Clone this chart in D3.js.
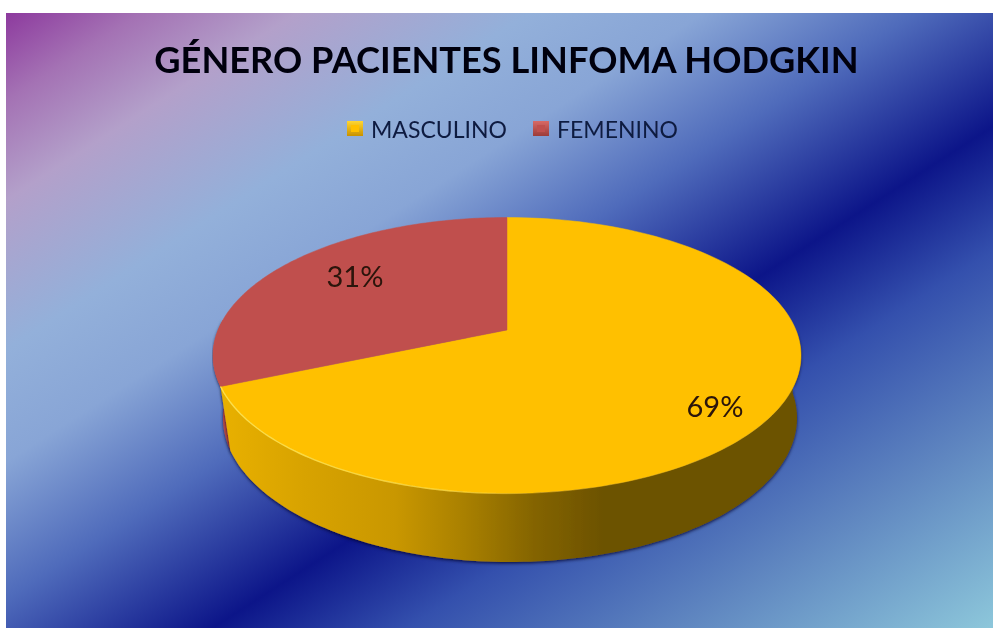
<!DOCTYPE html>
<html><head><meta charset="utf-8">
<script src="https://cdnjs.cloudflare.com/ajax/libs/d3/7.8.5/d3.min.js"></script>
<style>html,body{margin:0;padding:0;background:#fff;overflow:hidden}svg{display:block}</style>
</head><body><svg id="c" width="993" height="628"></svg>
<script>
const titleText = "GÉNERO PACIENTES LINFOMA HODGKIN";
const categories = ["MASCULINO", "FEMENINO"];
const values = [69, 31];
const colors = ["#ffc000", "#c0504d"];

const svg = d3.select("#c");
const defs = svg.append("defs");
const W = 993, H = 628, bgX = 6, bgY = 13;
const top3d = {cx: 507, cy: 355.5, rx: 294, ry: 138};
const bot3d = {cx: 510, cy: 418, rx: 287, ry: 144};
const apex = [507, 330];

function grad(id, attrs, stops) {
  const g = defs.append("linearGradient").attr("id", id).attr("gradientUnits", "userSpaceOnUse");
  Object.entries(attrs).forEach(([k, v]) => g.attr(k, v));
  stops.forEach(s => g.append("stop").attr("offset", s[0]).attr("stop-color", s[1]).attr("stop-opacity", s[2] === undefined ? 1 : s[2]));
}
grad("bg", {x1: 6, y1: 13, x2: 573, y2: 895}, [
  [0, "#8d3a9e"], [0.07, "#a472b4"], [0.15, "#b3a0ca"], [0.27, "#93b0da"], [0.36, "#88a5d6"],
  [0.47, "#4f6bbb"], [0.60, "#0c1589"], [0.70, "#3450ad"], [0.84, "#5f86c0"], [1, "#8cc6da"]
]);
grad("wallY", {x1: 222, y1: 0, x2: 800, y2: 0}, [
  [0, "#e8b000"], [0.14, "#d8a300"], [0.3, "#c99700"], [0.42, "#a98000"], [0.54, "#846400"],
  [0.66, "#6c5200"], [1, "#6c5200"]
]);
grad("wallR", {x1: 213, y1: 0, x2: 235, y2: 0}, [[0, "#d0554f"], [1, "#a03c38"]]);
grad("rim", {x1: 225, y1: 0, x2: 540, y2: 0}, [
  [0, "#ffe95c", 0.8], [0.7, "#ffe04a", 0.7], [1, "#ffe04a", 0]
]);
grad("lgY", {x1: 0, y1: 0, x2: 0, y2: 1}, [[0, "#ffd633"], [1, "#c99200"]]);
grad("lgR", {x1: 0, y1: 0, x2: 0, y2: 1}, [[0, "#d86a66"], [1, "#9c3b38"]]);
defs.selectAll("linearGradient").filter(function(){return /^lg/.test(this.id)}).attr("gradientUnits", "objectBoundingBox");

const soft = defs.append("filter").attr("id", "soft").attr("x", "-5%").attr("y", "-5%").attr("width", "110%").attr("height", "110%");
soft.append("feGaussianBlur").attr("stdDeviation", 0.45);
const shadow = defs.append("filter").attr("id", "shadow").attr("x", "-5%").attr("y", "-5%").attr("width", "110%").attr("height", "110%");
shadow.append("feDropShadow").attr("dx", 0).attr("dy", 1.5).attr("stdDeviation", 1.5).attr("flood-color", "#00002a").attr("flood-opacity", 0.75);

svg.append("rect").attr("x", bgX).attr("y", bgY).attr("width", W - bgX).attr("height", H - bgY).attr("fill", "url(#bg)");

const root = svg.append("g").attr("filter", "url(#soft)");

root.append("text").attr("x", 506.5).attr("y", 73).attr("text-anchor", "middle")
  .attr("font-family", "Lato, 'Open Sans', sans-serif").attr("font-weight", 700).attr("font-size", 36.2)
  .attr("fill", "#060610").text(titleText);

/* legend */
const legendX = d3.scaleOrdinal().domain(categories).range([347, 533]);
const legend = root.selectAll("g.lg").data(categories).join("g").attr("class", "lg")
  .attr("transform", d => `translate(${legendX(d)},121)`);
legend.append("rect").attr("width", 16).attr("height", 15).attr("fill", (d, i) => i ? "url(#lgR)" : "url(#lgY)");
legend.append("rect").attr("x", 4).attr("y", 4).attr("width", 8).attr("height", 7).attr("fill", (d, i) => colors[i]);
legend.append("text").attr("x", 24).attr("y", 16.5)
  .attr("font-family", "Lato, 'Open Sans', sans-serif").attr("font-size", 23)
  .attr("fill", "#101a40").text(d => d);

/* pie */
const pieAngles = d3.pie().sort(null).value(d => d)(values);
const boundary = pieAngles[0].endAngle;
/* the disc is tilted with perspective, so the slice boundary lands further round the rim */
const tiltDeg = 257;
const warp = d3.scaleLinear().domain([0, boundary, 2 * Math.PI]).range([0, tiltDeg * Math.PI / 180, 2 * Math.PI]);
const slices = pieAngles.map((p, i) => ({...p, startAngle: warp(p.startAngle), endAngle: warp(p.endAngle), color: colors[i]}));

const onEllipse = (e, a) => [e.cx + e.rx * Math.sin(a), e.cy - e.ry * Math.cos(a)];
const sweep = (a0, a1, n) => d3.range(n + 1).map(i => a0 + (a1 - a0) * i / n);
function wallPath(a0, a1) {
  const as = sweep(a0, a1, 120);
  const pts = as.map(a => onEllipse(top3d, a)).concat(as.slice().reverse().map(a => onEllipse(bot3d, a)));
  return d3.line()(pts) + "Z";
}
const walls = root.append("g");
walls.append("path").attr("d", wallPath(slices[0].endAngle - 0.02, 285 * Math.PI / 180)).attr("fill", "url(#wallR)").attr("filter", "url(#shadow)");
walls.append("path").attr("d", wallPath(80 * Math.PI / 180, slices[0].endAngle)).attr("fill", "url(#wallY)").attr("filter", "url(#shadow)");

root.selectAll("path.s").data(slices).join("path").attr("class", "s")
  .attr("d", d => d3.line()([apex].concat(sweep(d.startAngle, d.endAngle, 160).map(a => onEllipse(top3d, a)))) + "Z")
  .attr("fill", d => d.color).attr("stroke", d => d.color).attr("stroke-width", 0.5);

/* bright bevel along the front rim */
const rimPts = sweep(150 * Math.PI / 180, slices[0].endAngle, 80).map(a => onEllipse(top3d, a));
root.append("path").attr("d", d3.line()(rimPts)).attr("fill", "none").attr("stroke", "url(#rim)").attr("stroke-width", 1.4);

/* value labels */
const total = d3.sum(values);
const labelPos = [[715, 417], [355, 287]];
root.selectAll("text.v").data(values).join("text").attr("class", "v")
  .attr("x", (d, i) => labelPos[i][0]).attr("y", (d, i) => labelPos[i][1]).attr("text-anchor", "middle")
  .attr("font-family", "Lato, 'Open Sans', sans-serif").attr("font-size", 29).attr("fill", "#2a1208")
  .text(d => Math.round(d / total * 100) + "%");
</script></body></html>
